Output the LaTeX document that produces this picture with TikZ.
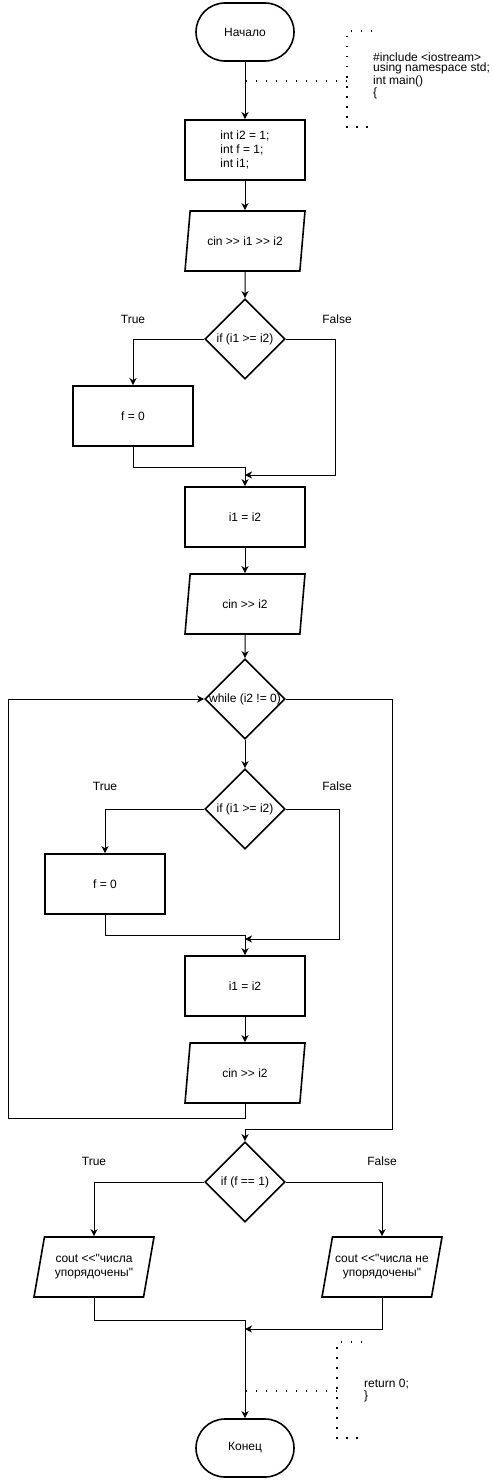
\documentclass[tikz,border=0pt]{standalone}
\usepackage{fontspec}
\setmainfont{Liberation Sans}[Ligatures=TeXOff]
\usetikzlibrary{shapes.geometric,arrows.meta}

\begin{document}
\begin{tikzpicture}[x=1pt,y=-1pt,
every node/.style={font=\fontsize{12}{14}\selectfont},
term/.style={draw,line width=1.6pt,rounded corners=29pt,minimum width=98,minimum height=58},
proc/.style={draw,line width=1.6pt,minimum width=120,minimum height=60},
io/.style={draw,line width=1.6pt,trapezium,trapezium left angle=71.6,trapezium right angle=108.4,trapezium stretches body,minimum width=120,minimum height=60,inner xsep=0},
dec/.style={draw,line width=1.6pt,diamond,minimum width=80,minimum height=80,inner sep=0},
arr/.style={-{Stealth[length=7pt,width=7pt,inset=2pt]},line width=1pt},
note/.style={line width=1.5pt,dash pattern=on 1.5pt off 8.5pt}]
\useasboundingbox (0,0) rectangle (491,1480);
\node[term] (start) at (245,32) {Начало};
\node[proc,align=left] (decl) at (245,150) {int i2 = 1;\\int f = 1;\\int i1;};
\node[io] (in1) at (245,241) {cin >> i1 >> i2};
\node[dec] (if1) at (245,339) {if (i1 >= i2)};
\node (t1) at (133,319) {True};
\node (fl1) at (337,319) {False};
\node[proc] (set1) at (133,416) {f = 0};
\node[proc] (asg1) at (245,517) {i1 = i2};
\node[io] (in2) at (245,604) {cin >> i2};
\node[dec] (wh) at (245,699) {\makebox[0pt]{while (i2 != 0)}};
\node[dec] (if2) at (245,809) {if (i1 >= i2)};
\node (t2) at (105,786) {True};
\node (fl2) at (337,786) {False};
\node[proc] (set2) at (105,884) {f = 0};
\node[proc] (asg2) at (245,986) {i1 = i2};
\node[io] (in3) at (245,1073) {cin >> i2};
\node[dec] (if3) at (245,1182) {if (f == 1)};
\node (t3) at (94,1161) {True};
\node (fl3) at (382,1161) {False};
\node[io,align=center] (outT) at (94,1267) {cout <<"числа\\упорядочены"};
\node[io,align=center] (outF) at (382,1267) {cout <<"числа не\\упорядочены"};
\node[term] (stop) at (245,1448) {Конец};
\node[anchor=west,align=left,inner xsep=0,font=\fontsize{12}{10.8}\selectfont] (c1) at (373,75.5) {\#include <iostream>\\using namespace std;\\int main()\\\{};
\node[anchor=west,align=left,inner xsep=0,font=\fontsize{12}{12.5}\selectfont] (c2) at (364,1390.5) {return 0;\\\}};
\coordinate (b1) at (347,81);
\coordinate (b2) at (337,1391);
\coordinate (m1) at (245,475);
\coordinate (m2) at (245,939);
\coordinate (m3) at (245,1329);
\coordinate (lp) at (8,1118);
\coordinate (ex) at (392,1129);
\draw[note] (372,31) -- (347,31) -- (347,127) -- (372,127);
\draw[note] (b1) -- (b1 -| start);
\draw[note] (362,1342) -- (337,1342) -- (337,1438) -- (362,1438);
\draw[note] (b2) -- (b2 -| stop);
\draw[arr] (start) -- (decl);
\draw[arr] (decl) -- (in1);
\draw[arr] (in1) -- (if1);
\draw[arr] (if1.west) -| (set1);
\draw[arr] (set1.south) -- ++(0,21) -| (asg1.north);
\draw[arr] (if1.east) -- ++(50,0) |- (m1);
\draw[arr] (asg1) -- (in2);
\draw[arr] (in2) -- (wh);
\draw[arr] (wh) -- (if2);
\draw[arr] (if2.west) -| (set2);
\draw[arr] (set2.south) -- ++(0,21) -| (asg2.north);
\draw[arr] (if2.east) -- ++(54,0) |- (m2);
\draw[arr] (asg2) -- (in3);
\draw[arr] (in3.south) |- (lp) |- (wh.west);
\draw[arr] (wh.east) -| (ex) -| (if3.north);
\draw[arr] (if3.west) -| (outT);
\draw[arr] (if3.east) -| (outF);
\draw[arr] (outT.south) -- ++(0,23) -| (stop);
\draw[arr] (outF.south) |- (m3);
\end{tikzpicture}
\end{document}
